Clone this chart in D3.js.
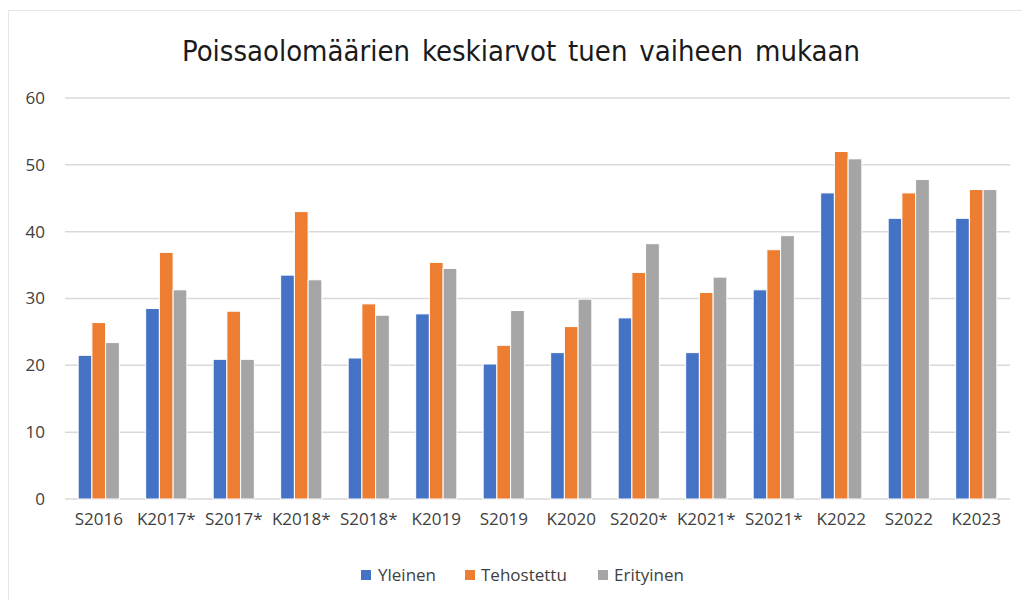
<!DOCTYPE html>
<html>
<head>
<meta charset="utf-8">
<script src="https://cdn.jsdelivr.net/npm/d3@7"></script>
<style>
  html, body { margin: 0; padding: 0; background: #fff; }
  svg { display: block; }
  text { font-family: "Open Sans", "Noto Sans", sans-serif; }
</style>
</head>
<body>
<svg id="chart" width="1022" height="600"></svg>
<script>
const title = "Poissaolomäärien keskiarvot tuen vaiheen mukaan";
const categories = ["S2016","K2017*","S2017*","K2018*","S2018*","K2019","S2019","K2020","S2020*","K2021*","S2021*","K2022","S2022","K2023"];
const seriesNames = ["Yleinen","Tehostettu","Erityinen"];
const yleinen    = [21.5, 28.5, 20.9, 33.5, 21.1, 27.7, 20.2, 21.9, 27.1, 21.9, 31.3, 45.8, 42.0, 42.0];
const tehostettu = [26.4, 36.9, 28.1, 43.0, 29.2, 35.4, 23.0, 25.8, 33.9, 30.9, 37.3, 52.0, 45.8, 46.3];
const erityinen  = [23.4, 31.3, 20.9, 32.8, 27.5, 34.5, 28.2, 29.9, 38.2, 33.2, 39.4, 50.9, 47.8, 46.3];
const yTicks = [0, 10, 20, 30, 40, 50, 60];
const colors = ["#4472C4", "#ED7D31", "#A5A5A5"];

const seriesValues = [yleinen, tehostettu, erityinen];
const data = categories.map((c, i) => ({cat: c, vals: seriesValues.map((s, j) => ({name: seriesNames[j], v: s[i], j}))}));

const svg = d3.select("#chart");
const margin = {left: 65, right: 12, top: 98, bottom: 101};
const W = 1022, H = 600;

// outer frame
svg.append("line").attr("x1", 8.5).attr("x2", W).attr("y1", 10.5).attr("y2", 10.5).attr("stroke", "#e6e6e6").attr("stroke-width", 1);
svg.append("line").attr("x1", 8.5).attr("x2", 8.5).attr("y1", 10.5).attr("y2", H).attr("stroke", "#e6e6e6").attr("stroke-width", 1);

const x0 = d3.scaleBand().domain(categories).range([margin.left, W - margin.right]).paddingInner(0.39).paddingOuter(0.195);
const x1 = d3.scaleBand().domain(seriesNames).range([0, x0.bandwidth()]);
const y = d3.scaleLinear().domain([0, 60]).range([H - margin.bottom, margin.top]);

// gridlines
svg.append("g").selectAll("line").data(yTicks).join("line")
  .attr("x1", margin.left).attr("x2", W - margin.right)
  .attr("y1", d => y(d)).attr("y2", d => y(d))
  .attr("stroke", "#d9d9d9").attr("stroke-width", 1.5);

// y axis labels
const yAxis = d3.axisLeft(y).tickValues(yTicks).tickSize(0).tickPadding(20);
const gy = svg.append("g").attr("transform", `translate(${margin.left},0)`).call(yAxis);
gy.select(".domain").remove();
gy.selectAll("text").attr("font-size", 17).attr("fill", "#404040").style("font-family", '"Open Sans", sans-serif');

// bars
const groups = svg.append("g").selectAll("g").data(data).join("g")
  .attr("transform", d => `translate(${x0(d.cat)},0)`);
groups.selectAll("rect").data(d => d.vals).join("rect")
  .attr("x", d => x1(d.name))
  .attr("width", x1.bandwidth())
  .attr("y", d => y(d.v))
  .attr("height", d => y(0) - y(d.v))
  .attr("fill", d => colors[d.j])
  .attr("stroke", "#fff").attr("stroke-width", 1);

// x axis labels
const xAxis = d3.axisBottom(x0).tickSize(0).tickPadding(14);
const gx = svg.append("g").attr("transform", `translate(0,${y(0)})`).call(xAxis);
gx.select(".domain").remove();
gx.selectAll("text").attr("font-size", 17).attr("fill", "#404040").style("font-family", '"Open Sans", sans-serif');

// title (condensed face, fitted to the reference width)
const titleFont = '"Liberation Sans Narrow", "DejaVu Sans Condensed", "Open Sans", sans-serif';
const probe = svg.append("text").style("font-family", titleFont).attr("font-size", 34).text(title.split(" ")[0]);
const firstW = probe.node().getComputedTextLength();
probe.remove();
const titleSize = Math.max(22, Math.min(36, 34 * 228 / firstW));
const t = svg.append("text").attr("x", 521).attr("y", 61).attr("text-anchor", "middle")
  .style("font-family", titleFont)
  .attr("font-size", titleSize).attr("fill", "#1a1a1a").text(title);
const tw = t.node().getComputedTextLength();
const nSpaces = title.split(" ").length - 1;
t.attr("word-spacing", Math.max(-4, Math.min(20, (678 - tw) / nSpaces)));

// legend
const legendItems = [
  {name: seriesNames[0], sx: 361, tx: 378},
  {name: seriesNames[1], sx: 465, tx: 481},
  {name: seriesNames[2], sx: 598, tx: 614}
];
const lg = svg.append("g");
legendItems.forEach((d, i) => {
  lg.append("rect").attr("x", d.sx).attr("y", 570).attr("width", 10).attr("height", 10).attr("fill", colors[i]);
  lg.append("text").attr("x", d.tx).attr("y", 581).attr("font-size", 17).attr("fill", "#404040").text(d.name);
});
</script>
</body>
</html>
